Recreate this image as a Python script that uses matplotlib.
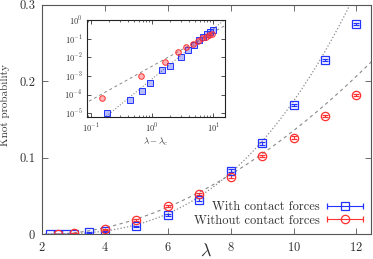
import numpy as np
import matplotlib
matplotlib.use('Agg')
import matplotlib.pyplot as plt
from matplotlib.container import ErrorbarContainer
from matplotlib.legend_handler import HandlerErrorbar
from matplotlib.ticker import FixedLocator, FuncFormatter, LogLocator, NullFormatter

plt.rcParams['font.family'] = 'serif'
plt.rcParams['font.serif'] = ['cmr10', 'DejaVu Serif']
plt.rcParams['mathtext.fontset'] = 'cm'
plt.rcParams['axes.formatter.use_mathtext'] = True

# data
lam_with = [2.25, 2.5, 2.75, 3.0, 3.5, 4.0, 5, 6, 7, 8, 9, 10, 11, 12]
p_with = [1.0e-5, 4.9e-5, 1.6e-4, 4.2e-4, 2.0e-3, 3.6e-3, 0.0100, 0.025,
          0.045, 0.083, 0.1185, 0.169, 0.2275, 0.2745]
err_with = [1e-6, 5e-6, 2e-5, 5e-5, 2e-4, 5e-4, 0.001, 0.0015,
            0.0015, 0.0015, 0.0015, 0.0015, 0.0015, 0.0015]

lam_without = [2.5, 3.0, 4.0, 5, 6, 7, 8, 9, 10, 11, 12]
p_without = [6.3e-5, 9.7e-4, 5.9e-3, 0.018, 0.037, 0.052, 0.075, 0.102,
             0.126, 0.154, 0.182]
err_without = [1e-5, 1e-4, 5e-4, 0.0015, 0.0015, 0.0015, 0.0015, 0.0015,
               0.0015, 0.0015, 0.0015]

# power-law fits  P = A * (lambda - lambda_c)^b
lc_with, A_with, b_with = 2.07, 6.9e-4, 2.67
lc_without, A_without, b_without = 2.35, 3.33e-3, 1.82

blue = '#2233ff'
red = '#ff3030'
grey = '#8a8a8a'
axcol = '#555555'
txtcol = '#333333'

fig = plt.figure(figsize=(3.73, 2.59), dpi=100)
ax = fig.add_axes([0.113, 0.0965, 0.882, 0.886])

lam = np.linspace(2.0, 12.5, 400)
fit_w = np.where(lam > lc_with, A_with * np.clip(lam - lc_with, 0, None) ** b_with, np.nan)
fit_wo = np.where(lam > lc_without, A_without * np.clip(lam - lc_without, 0, None) ** b_without, np.nan)
ax.plot(lam, fit_w, ':', color=grey, lw=0.9)
ax.plot(lam, fit_wo, '--', color=grey, lw=0.8, dashes=(3, 3))

ax.errorbar(lam_with, p_with, yerr=err_with, fmt='s', ms=6, mfc='none',
            mec=blue, mew=0.9, ecolor=blue, elinewidth=0.8, capsize=2.2)
ax.errorbar(lam_without, p_without, yerr=err_without, fmt='o', ms=6, mfc='none',
            mec=red, mew=0.9, ecolor=red, elinewidth=0.8, capsize=2.2)

ax.set_xlim(2, 12.47)
ax.set_ylim(0, 0.3)
ax.set_xticks([2, 4, 6, 8, 10, 12])
ax.set_yticks([0, 0.1, 0.2, 0.3])
ax.yaxis.set_major_formatter(FuncFormatter(lambda v, p: '0' if v == 0 else f'{v:.1f}'))
ax.tick_params(direction='in', top=True, right=True, length=4, width=0.6,
               color=axcol, labelcolor=txtcol, labelsize=9, pad=5)
for s in ax.spines.values():
    s.set_color(axcol)
    s.set_linewidth(0.8)
ax.set_xlabel(r'$\lambda$', fontsize=13, color=txtcol)
ax.xaxis.set_label_coords(0.497, -0.035)
ax.set_ylabel('Knot probability', fontsize=8, color=txtcol)
ax.yaxis.set_label_coords(-0.097, 0.56)

# legend proxies with horizontal error bars, like the reference
h1 = ax.errorbar([np.nan], [np.nan], xerr=[1], fmt='s', ms=6, mfc='none',
                 mec=blue, mew=0.9, ecolor=blue, elinewidth=0.8, capsize=2.5)
h2 = ax.errorbar([np.nan], [np.nan], xerr=[1], fmt='o', ms=6, mfc='none',
                 mec=red, mew=0.9, ecolor=red, elinewidth=0.8, capsize=2.5)
leg = ax.legend([h1, h2], ['With contact forces', 'Without contact forces'],
                loc='lower right', markerfirst=False, frameon=False, fontsize=9,
                handlelength=3.0, handletextpad=0.5, labelspacing=0.1,
                borderaxespad=0.2,
                handler_map={ErrorbarContainer: HandlerErrorbar(xerr_size=1.45)})
for t in leg.get_texts():
    t.set_color(txtcol)

# inset: log-log vs lambda - lambda_c
ins = fig.add_axes([0.2325, 0.547, 0.371, 0.376])
xs = np.logspace(-1.2, 1.3, 200)
ins.plot(xs, A_with * xs ** b_with, ':', color=grey, lw=0.8)
ins.plot(xs, A_without * xs ** b_without, '--', color=grey, lw=0.7, dashes=(3, 3))
ins.plot(np.array(lam_with) - lc_with, p_with, 's', ms=4, mfc=(0.2, 0.25, 1, 0.35),
         mec=blue, mew=0.7)
ins.plot(np.array(lam_without) - lc_without, p_without, 'o', ms=4,
         mfc=(1, 0.2, 0.2, 0.35), mec=red, mew=0.7)
ins.set_xscale('log')
ins.set_yscale('log')
ins.set_xlim(0.085, 15.7)
ins.set_ylim(6e-6, 1)
ins.xaxis.set_major_locator(FixedLocator([0.1, 1, 10]))
ins.yaxis.set_major_locator(FixedLocator([1e-5, 1e-4, 1e-3, 1e-2, 1e-1, 1]))
ins.xaxis.set_minor_locator(LogLocator(base=10, subs=np.arange(2, 10)))
ins.yaxis.set_minor_locator(LogLocator(base=10, subs=np.arange(2, 10)))
ins.xaxis.set_minor_formatter(NullFormatter())
ins.yaxis.set_minor_formatter(NullFormatter())
ins.tick_params(which='both', direction='in', top=True, right=True,
                color='#333333', labelsize=6, labelcolor=txtcol, pad=3)
ins.tick_params(which='major', length=3, width=0.6)
ins.tick_params(which='minor', length=1.6, width=0.5)
for s in ins.spines.values():
    s.set_color('#222222')
    s.set_linewidth(0.8)
ins.set_xlabel(r'$\lambda-\lambda_c$', fontsize=6.5, labelpad=1, color=txtcol)

fig.savefig('out.png', dpi=100)
